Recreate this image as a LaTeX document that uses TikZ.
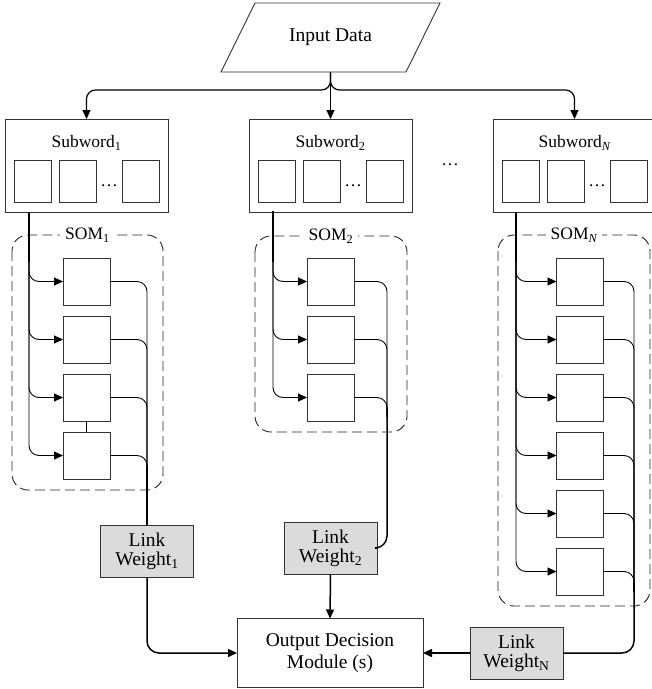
\documentclass[tikz,border=0pt]{standalone}
\usepackage{fontspec}
\setmainfont{Liberation Serif}
\usetikzlibrary{arrows.meta}
\newcommand\bigfs{\fontsize{19.5}{19}\selectfont}
\newcommand\midfs{\fontsize{17.5}{19}\selectfont}
\begin{document}
\begin{tikzpicture}[x=1pt,y=-1pt,
  every node/.style={inner sep=0pt,outer sep=0pt},
  frame/.style={draw=black!80,line width=0.9pt},
  swbox/.style={frame,minimum width=163pt,minimum height=93pt},
  cell/.style={frame,line width=0.8pt,minimum width=37pt,minimum height=42pt},
  unit/.style={frame,line width=0.8pt,minimum width=47pt,minimum height=47pt},
  lw/.style={frame,fill=black!14,minimum width=93pt,minimum height=52pt,align=center,font=\bigfs},
  outbox/.style={frame,minimum width=186pt,minimum height=69pt,align=center,font=\fontsize{19.5}{22}\selectfont},
  somframe/.style={draw=black!85,line width=0.9pt,dash pattern=on 10pt off 5pt,rounded corners=16pt},
  somlabel/.style={fill=white,inner xsep=5pt,inner ysep=2pt,font=\midfs},
  heavy/.style={line width=1.5pt},
  light/.style={line width=0.9pt},
  tip/.style={-{Triangle[length=9pt,width=8pt]}},
  curvy/.style={rounded corners=10pt}]
\useasboundingbox (0,0) rectangle (652,689);
\clip (0,0) rectangle (652,689);

% input data
\draw[frame] (255,3) -- (440,3) -- (406,72) -- (221,72) -- cycle;
\node[font=\bigfs] (inp) at (330.5,37) {Input Data};
\coordinate (ib) at (330.5,72);
\coordinate (hb) at (330.5,90);

% subword boxes
\foreach \n/\l/\t in {1/5/{Subword\textsubscript{1}},2/249/{Subword\textsubscript{2}},N/493/{Subword\textsubscript{\itshape N}}}{
  \node[swbox] (sw\n) at (\l+81.5,165.5) {};
  \node[font=\midfs] (swt\n) at (\l+81.5,143) {\t};
  \node[cell] (c\n a) at (\l+27.5,181) {};
  \node[cell] (c\n b) at (\l+72.5,181) {};
  \node[font=\midfs] (d\n) at (\l+104,186) {…};
  \node[cell] (c\n c) at (\l+136,181) {};
}
\node[font=\midfs] (dots) at (450,165) {…};

% top connectors
\draw[line width=1.2pt,tip] (ib) -- (sw2.north);
\draw[line width=1.2pt,tip,rounded corners=9pt] (ib) |- (hb -| sw1.north) -- (sw1.north);
\draw[line width=1.2pt,tip,rounded corners=9pt] (ib) |- (hb -| swN.north) -- (swN.north);

% link weights and output
\node[lw] (lw1) at (147,551) {Link\\Weight\textsubscript{1}};
\node[lw] (lw2) at (330.5,548) {Link\\Weight\textsubscript{2}};
\node[lw] (lwN) at (516.5,653) {Link\\Weight\textsubscript{N}};
\node[outbox] (out) at (330,653) {Output Decision\\Module (s)};

% SOM 1
\draw[somframe] (12,235) rectangle (163,490);
\node[somlabel] (som1) at (87.5,235) {SOM\textsubscript{1}};
\foreach \k/\y in {1/281.5,2/339.5,3/397.5,4/455.5}
  \node[unit] (s1\k) at (86.5,\y) {};
\coordinate (t1) at (29,212);
\draw[heavy] (t1) -- (29,262);
\foreach \k in {1,...,4} \draw[light,tip,curvy] (29,255) |- (s1\k.west);
\draw[light] (s13.south) -- (s14.north);
\foreach \k in {1,...,4} \draw[light,curvy] (s1\k.east) -| (147,475);
\draw[heavy] (147,465) -- (lw1.north);
\draw[heavy,tip,rounded corners=12pt] (lw1.south) |- (out.west);

% SOM 2
\draw[somframe] (255,236) rectangle (407,432);
\node[somlabel] (som2) at (331,236) {SOM\textsubscript{2}};
\foreach \k/\y in {1/281.5,2/339.5,3/397.5}
  \node[unit] (s2\k) at (330.5,\y) {};
\coordinate (t2) at (273,211);
\draw[heavy] (t2) -- (273,262);
\foreach \k in {1,...,3} \draw[light,tip,curvy] (273,255) |- (s2\k.west);
\foreach \k in {1,...,3} \draw[light,curvy] (s2\k.east) -| (387,417);
\draw[heavy,rounded corners=12pt] (387,407) |- (lw2.east);
\draw[heavy,tip] (lw2.south) -- (out.north);

% SOM N
\draw[somframe] (498,235) rectangle (650,606);
\node[somlabel] (somN) at (574,235) {SOM\textsubscript{\itshape N}};
\foreach \k/\y in {1/281.5,2/339.5,3/397.5,4/455.5,5/513.5,6/571.5}
  \node[unit] (sN\k) at (580,\y) {};
\coordinate (tN) at (516,212);
\draw[heavy] (tN) -- (516,262);
\foreach \k in {1,...,6} \draw[light,tip,curvy] (516,255) |- (sN\k.west);
\foreach \k in {1,...,6} \draw[light,curvy] (sN\k.east) -| (634,592);
\draw[heavy,rounded corners=12pt] (634,582) |- (lwN.east);
\draw[heavy,tip] (lwN.west) -- (out.east);
\end{tikzpicture}
\end{document}
